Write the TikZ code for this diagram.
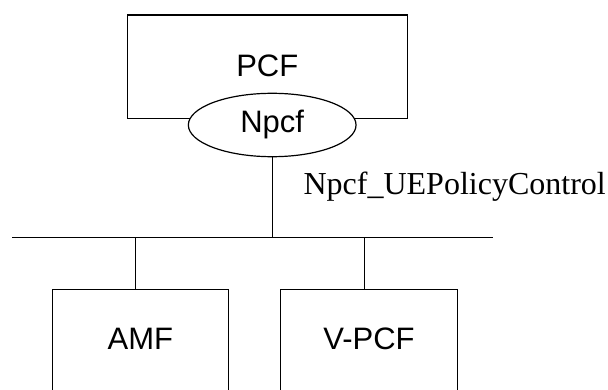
\documentclass[tikz,border=0pt]{standalone}
\usepackage{fontspec}
\setmainfont{Liberation Serif}
\newfontfamily\arialf{Liberation Sans}
\usetikzlibrary{shapes.geometric}
\begin{document}
\begin{tikzpicture}[x=1pt,y=-1pt,line width=1.2pt,
  nfbox/.style={draw, rectangle, inner sep=0pt, font=\arialf\fontsize{31}{36}\selectfont, text height=22.2pt},
  ifell/.style={draw, ellipse, fill=white, inner sep=0pt, font=\arialf\fontsize{31}{36}\selectfont, text height=22.2pt, text depth=6.6pt},
  lbl/.style={anchor=base west, inner sep=0pt, font=\fontsize{32}{38}\selectfont}]
\clip (0,0) rectangle (608,390);
\fill[white] (0,0) rectangle (608,390);
% PCF
\node[nfbox, minimum width=280pt, minimum height=103.3pt, text depth=2.4pt] (pcf) at (267.3,66.7) {PCF};
\node[ifell, minimum width=167.7pt, minimum height=63.4pt] (npcf) at (272.2,125) {Npcf};
% bus
\coordinate (busL) at (12,237.3);
\coordinate (busR) at (492.7,237.3);
\coordinate (tapA) at (135.7,237.3);
\coordinate (tapV) at (364.3,237.3);
\draw (busL) -- (busR);
% lower NFs
\node[nfbox, minimum width=176pt, minimum height=140pt, text depth=42pt] (amf) at (140.3,359.3) {AMF};
\node[nfbox, minimum width=176.6pt, minimum height=140pt, text depth=42pt] (vpcf) at (369,359.3) {V-PCF};
% connectors
\draw (npcf.south) -- (npcf.south |- busL);
\draw (tapA) -- (tapA |- amf.north);
\draw (tapV) -- (tapV |- vpcf.north);
% label
\node[lbl] (svc) at (303,194.3) {Npcf\_UEPolicyControl};
\end{tikzpicture}
\end{document}
